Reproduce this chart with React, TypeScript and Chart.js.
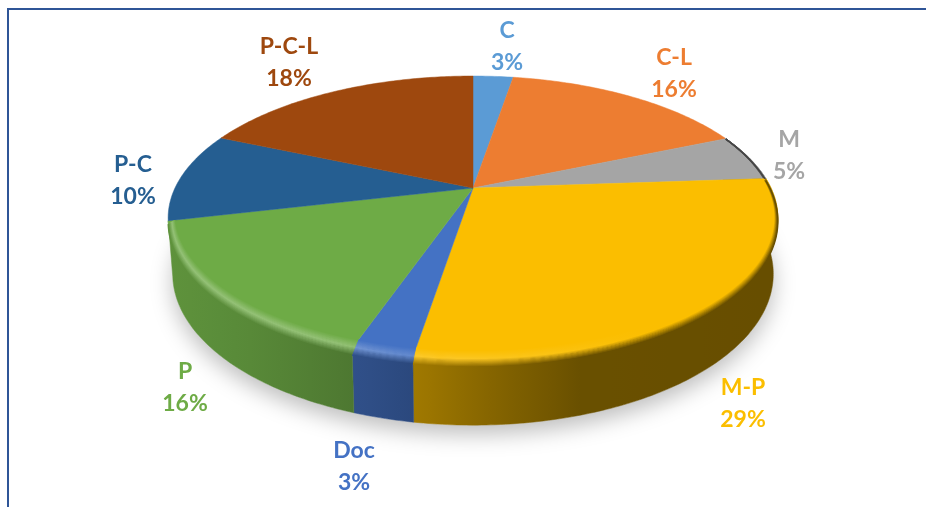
import React, { useEffect, useRef } from "react";
import { Chart, registerables } from "chart.js";

Chart.register(...registerables);

const categories = ["C", "C-L", "M", "M-P", "Doc", "P", "P-C", "P-C-L"];
const shares = [2.6, 15.9, 5.3, 28.6, 2.7, 16.0, 10.2, 18.4];
const colors = ["#5B9BD5", "#ED7D31", "#A5A5A5", "#FBBE00", "#4472C4", "#6EAB46", "#255E91", "#9E480E"];
const labelCenters: [number, number][] = [
  [507, 46], [674, 73], [789, 155], [743, 403], [354, 466], [185, 387], [133, 180], [289, 62],
];

const K = 0.211;
const XS = 298 / 188;
const YS = 135.6 / 188;

type RGB = [number, number, number];
const hex = (h: string): RGB => [1, 3, 5].map((i) => parseInt(h.slice(i, i + 2), 16)) as RGB;
const css = (c: RGB) => `rgb(${c.map((v) => Math.round(v)).join(",")})`;
const mix = (a: RGB, b: RGB, t: number): RGB => a.map((v, i) => v + (b[i] - v) * t) as RGB;
const lerpTable = (table: [number, number][], x: number) => {
  if (x <= table[0][0]) return table[0][1];
  for (let i = 1; i < table.length; i++) {
    if (x <= table[i][0]) {
      const [x0, y0] = table[i - 1];
      const [x1, y1] = table[i];
      return y0 + ((y1 - y0) * (x - x0)) / (x1 - x0);
    }
  }
  return table[table.length - 1][1];
};
const wallShade: [number, number][] = [[170, 0.86], [250, 0.8], [355, 0.7], [413, 0.64], [500, 0.52], [580, 0.42], [780, 0.41]];
const glow: [number, number][] = [[170, 0.26], [340, 0.26], [413, 0.16], [550, 0.08], [650, 0], [780, 0]];

const pie3d = {
  id: "pie3d",
  beforeDatasetsDraw(chart: any) {
    const { ctx } = chart;
    const meta = chart.getDatasetMeta(0);
    const arcs = meta.data as any[];
    const cx = arcs[0].x;
    const cy = arcs[0].y;
    const R = arcs[0].outerRadius;

    const top = (a: number, r: number, drop = 0): [number, number] => {
      const u = r * Math.cos(a);
      const v = -r * Math.sin(a);
      const w = 1 + K * v;
      return [cx + (R * XS * u) / w, cy + drop - (R * YS * v) / w];
    };
    const bottom = (a: number): [number, number] => {
      const u = Math.cos(a);
      const v = -Math.sin(a);
      const w = 1 + K * v;
      return [cx + (R * XS * 0.985 * u) / w, cy + 54 - (144.5 * (R / 188) * v) / w];
    };
    const STEP = Math.PI / 240;
    const sweep = (a0: number, a1: number) => {
      const n = Math.max(1, Math.ceil((a1 - a0) / STEP));
      return Array.from({ length: n + 1 }, (_, i) => a0 + ((a1 - a0) * i) / n);
    };
    const wallGradient = (mapper: (x: number) => RGB) => {
      const g = ctx.createLinearGradient(160, 0, 790, 0);
      for (let x = 160; x <= 790; x += 30) g.addColorStop((x - 160) / 630, css(mapper(x)));
      return g;
    };
    const bevel = (a: number) => Math.min(1, Math.max(0, (0.5 + Math.sin(a)) / 1.5));

    // the wall only shows along the M, M-P, Doc and P slices
    const wallFrom = arcs[2].startAngle;
    const wallTo = arcs[5].endAngle;

    // ground shadow
    ctx.save();
    ctx.shadowColor = "rgba(0,0,0,0.26)";
    ctx.shadowBlur = 22;
    ctx.shadowOffsetY = 9;
    ctx.fillStyle = "#fff";
    ctx.beginPath();
    sweep(-Math.PI / 2, 1.5 * Math.PI).forEach((a) => {
      const p = bottom(a);
      ctx.lineTo(p[0], p[1]);
    });
    ctx.closePath();
    ctx.fill();
    ctx.restore();

    // side wall
    arcs.forEach((el) => {
      const a0 = Math.max(el.startAngle, wallFrom);
      const a1 = Math.min(el.endAngle, wallTo);
      if (a1 <= a0) return;
      const base = hex(el.options.backgroundColor);
      const fill = wallGradient((x) => base.map((v) => v * lerpTable(wallShade, x)) as RGB);
      ctx.fillStyle = fill;
      ctx.strokeStyle = fill;
      ctx.lineWidth = 0.5;
      ctx.beginPath();
      const angles = sweep(a0, a1);
      angles.forEach((a) => {
        const p = top(a, 1);
        ctx.lineTo(p[0], p[1]);
      });
      [...angles].reverse().forEach((a) => {
        const p = bottom(a);
        ctx.lineTo(p[0], p[1]);
      });
      ctx.closePath();
      ctx.fill();
      ctx.stroke();
    });

    // top faces
    arcs.forEach((el) => {
      const c = el.options.backgroundColor;
      ctx.fillStyle = c;
      ctx.strokeStyle = c;
      ctx.lineWidth = 0.5;
      ctx.beginPath();
      ctx.moveTo(cx, cy);
      sweep(el.startAngle, el.endAngle).forEach((a) => {
        const p = top(a, 1);
        ctx.lineTo(p[0], p[1]);
      });
      ctx.closePath();
      ctx.fill();
      ctx.stroke();
    });

    // rounded bevel along the rim
    const STRIPS = 16;
    arcs.forEach((el) => {
      const a0 = Math.max(el.startAngle, wallFrom);
      const a1 = Math.min(el.endAngle, wallTo);
      if (a1 <= a0) return;
      const base = hex(el.options.backgroundColor);
      const angles = sweep(a0, a1);
      for (let k = 0; k <= STRIPS; k++) {
        const t = k / STRIPS;
        ctx.strokeStyle = wallGradient((x) => {
          const shade = base.map((v) => v * lerpTable(wallShade, x)) as RGB;
          const high = mix(base, [255, 255, 255], lerpTable(glow, x));
          return t < 0.5 ? mix(base, high, t / 0.5) : mix(high, shade, (t - 0.5) / 0.5);
        });
        ctx.lineWidth = 1.4;
        ctx.beginPath();
        angles.forEach((a) => {
          const f = bevel(a);
          const p = top(a, 1 - 0.042 * f * (1 - t), 7 * f * t);
          ctx.lineTo(p[0], p[1]);
        });
        ctx.stroke();
      }
    });
    return false;
  },
  afterDraw(chart: any) {
    const { ctx } = chart;
    const values = chart.data.datasets[0].data as number[];
    ctx.save();
    ctx.font = 'bold 23px Lato, "Open Sans", sans-serif';
    ctx.textAlign = "center";
    ctx.textBaseline = "middle";
    (chart.data.labels as string[]).forEach((name, i) => {
      const [x, y] = labelCenters[i];
      ctx.fillStyle = colors[i];
      ctx.fillText(name, x, y - 15);
      ctx.fillText(`${Math.round(values[i])}%`, x, y + 17);
    });
    ctx.restore();
  },
};

export default function App() {
  const ref = useRef<HTMLCanvasElement>(null);
  useEffect(() => {
    document.body.style.margin = "0";
    const chart = new Chart(ref.current as HTMLCanvasElement, {
      type: "pie",
      data: {
        labels: categories,
        datasets: [{ data: shares, backgroundColor: colors, borderWidth: 0 }],
      },
      options: {
        responsive: false,
        animation: false,
        layout: { padding: { left: 20, right: 0, top: 0, bottom: 131 } },
        plugins: { legend: { display: false }, tooltip: { enabled: false } },
      },
      plugins: [pie3d],
    } as any);
    return () => chart.destroy();
  }, []);
  return (
    <div style={{ position: "relative", width: 926, height: 507, overflow: "hidden", background: "#fff" }}>
      <canvas ref={ref} width={926} height={507} style={{ display: "block" }} />
      <div style={{ position: "absolute", left: 7, top: 8, right: -4, bottom: -4, borderTop: "2px solid #2F5597", borderLeft: "2px solid #2F5597" }} />
    </div>
  );
}
